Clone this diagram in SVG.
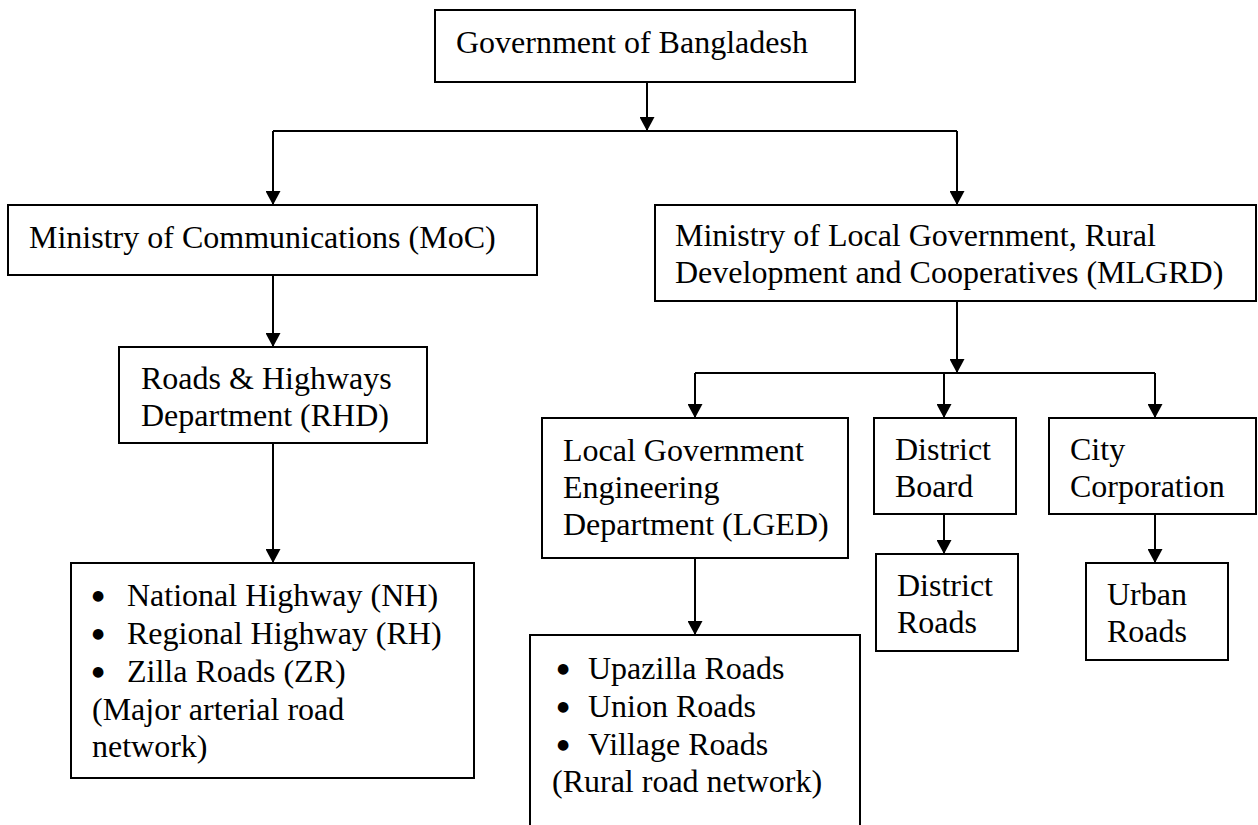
<svg xmlns="http://www.w3.org/2000/svg" width="1258" height="825" viewBox="0 0 1258 825">
  <style>
    .box { fill: #fff; stroke: #000; stroke-width: 2; }
    .t { font-family: "Liberation Serif", "Times New Roman", serif; font-size: 32px; fill: #000; }
    .b { font-family: "DejaVu Sans", sans-serif; font-size: 14px; fill: #000; }
    .c { fill: none; stroke: #000; stroke-width: 2; }
  </style>
  <defs>
    <marker id="ah" markerUnits="userSpaceOnUse" markerWidth="14" markerHeight="15" viewBox="0 0 14 15" refX="14" refY="7.5" orient="auto">
      <path d="M0,0 L14,7.5 L0,15 z" fill="#000"/>
    </marker>
  </defs>
  <rect width="1258" height="825" fill="#fff"/>

  <g id="connectors">
    <path class="c" d="M647,82 V131" marker-end="url(#ah)"/>
    <path class="c" d="M273,131 H957"/>
    <path class="c" d="M273,131 V205" marker-end="url(#ah)"/>
    <path class="c" d="M957,131 V205" marker-end="url(#ah)"/>
    <path class="c" d="M273,275 V347" marker-end="url(#ah)"/>
    <path class="c" d="M273,443 V563" marker-end="url(#ah)"/>
    <path class="c" d="M957,301 V373" marker-end="url(#ah)"/>
    <path class="c" d="M695,373 H1155"/>
    <path class="c" d="M695,373 V418" marker-end="url(#ah)"/>
    <path class="c" d="M944,373 V418" marker-end="url(#ah)"/>
    <path class="c" d="M1155,373 V418" marker-end="url(#ah)"/>
    <path class="c" d="M695,558 V635" marker-end="url(#ah)"/>
    <path class="c" d="M944,514 V554" marker-end="url(#ah)"/>
    <path class="c" d="M1155,514 V563" marker-end="url(#ah)"/>
  </g>

  <g id="gob">
    <rect class="box" x="435" y="10" width="420" height="72"/>
    <text class="t" x="456" y="53">Government of Bangladesh</text>
  </g>

  <g id="moc">
    <rect class="box" x="8" y="205" width="529" height="70"/>
    <text class="t" x="29" y="248">Ministry of Communications (MoC)</text>
  </g>

  <g id="mlgrd">
    <rect class="box" x="655" y="205" width="601" height="96"/>
    <text class="t" x="675" y="246">Ministry of Local Government, Rural</text>
    <text class="t" x="675" y="283">Development and Cooperatives (MLGRD)</text>
  </g>

  <g id="rhd">
    <rect class="box" x="119" y="347" width="308" height="96"/>
    <text class="t" x="141" y="389">Roads &amp; Highways</text>
    <text class="t" x="141" y="426">Department (RHD)</text>
  </g>

  <g id="rhd-roads">
    <rect class="box" x="71" y="563" width="403" height="215"/>
    <text class="b" x="92" y="600">●</text>
    <text class="t" x="127" y="606">National Highway (NH)</text>
    <text class="b" x="92" y="638">●</text>
    <text class="t" x="127" y="644">Regional Highway (RH)</text>
    <text class="b" x="92" y="676">●</text>
    <text class="t" x="127" y="682">Zilla Roads (ZR)</text>
    <text class="t" x="92" y="720">(Major arterial road</text>
    <text class="t" x="92" y="757">network)</text>
  </g>

  <g id="lged">
    <rect class="box" x="542" y="418" width="306" height="140"/>
    <text class="t" x="563" y="461">Local Government</text>
    <text class="t" x="563" y="498">Engineering</text>
    <text class="t" x="563" y="535">Department (LGED)</text>
  </g>

  <g id="district-board">
    <rect class="box" x="874" y="418" width="142" height="96"/>
    <text class="t" x="895" y="460">District</text>
    <text class="t" x="895" y="497">Board</text>
  </g>

  <g id="city-corporation">
    <rect class="box" x="1049" y="418" width="207" height="96"/>
    <text class="t" x="1070" y="460">City</text>
    <text class="t" x="1070" y="497">Corporation</text>
  </g>

  <g id="district-roads">
    <rect class="box" x="876" y="554" width="142" height="97"/>
    <text class="t" x="897" y="596">District</text>
    <text class="t" x="897" y="633">Roads</text>
  </g>

  <g id="urban-roads">
    <rect class="box" x="1086" y="563" width="142" height="97"/>
    <text class="t" x="1107" y="605">Urban</text>
    <text class="t" x="1107" y="642">Roads</text>
  </g>

  <g id="rural-roads">
    <rect class="box" x="530" y="635" width="330" height="200"/>
    <text class="b" x="557" y="673">●</text>
    <text class="t" x="588" y="679">Upazilla Roads</text>
    <text class="b" x="557" y="711">●</text>
    <text class="t" x="588" y="717">Union Roads</text>
    <text class="b" x="557" y="749">●</text>
    <text class="t" x="588" y="755">Village Roads</text>
    <text class="t" x="552" y="792">(Rural road network)</text>
  </g>
</svg>
